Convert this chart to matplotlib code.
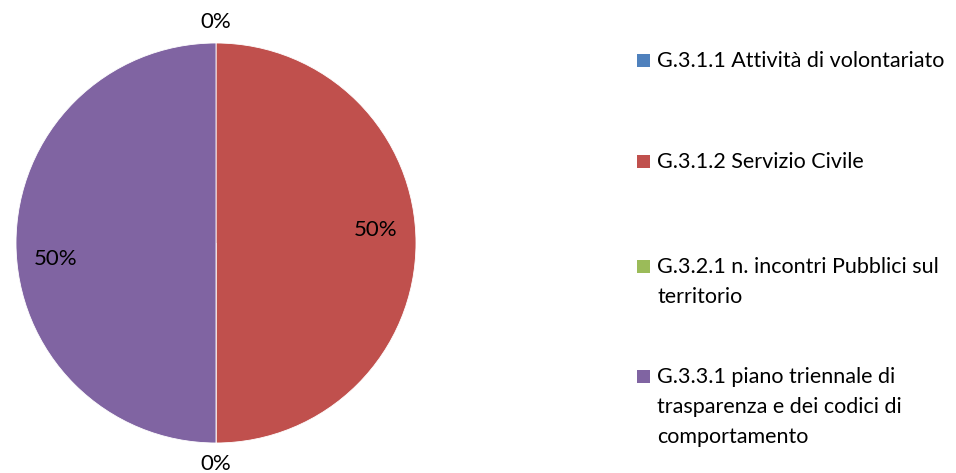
import numpy as np
import matplotlib
matplotlib.use("Agg")
import matplotlib.pyplot as plt
from matplotlib.patches import Rectangle

# data
categories = [
    "G.3.1.1 Attività di volontariato",
    "G.3.1.2 Servizio Civile",
    "G.3.2.1 n. incontri Pubblici sul\nterritorio",
    "G.3.3.1 piano triennale di\ntrasparenza e dei codici di\ncomportamento",
]
values = [0, 1, 0, 1]
colors = ["#4F81BD", "#C0504D", "#9BBB59", "#8064A2"]

plt.rcParams["font.family"] = ["Lato", "DejaVu Sans"]

fig = plt.figure(figsize=(9.56, 4.73), dpi=100)
W, H = 956, 473

# pie axes: centre (216, 243), radius 200 px
ax = fig.add_axes([16 / W, (H - 443) / H, 400 / W, 400 / H])
wedges, _ = ax.pie(values, colors=colors, startangle=90, counterclock=False,
                   radius=1, wedgeprops=dict(edgecolor="white", linewidth=0.6))
ax.set_xlim(-1, 1)
ax.set_ylim(-1, 1)
ax.set_aspect("equal")
ax.axis("off")

# percentage labels
total = sum(values)
nudge = [0.0, 0.065, 0.0, -0.08]
for w, v, dy in zip(wedges, values, nudge):
    mid = np.deg2rad((w.theta1 + w.theta2) / 2)
    dist = 0.8 if v > 0 else 1.105
    x = dist * np.cos(mid)
    y = dist * np.sin(mid) + dy
    ax.text(x, y, f"{v / total:.0%}", ha="center", va="center",
            fontsize=16, color="#000000", clip_on=False)

# legend drawn by hand (marker aligned with first line)
baselines = [67, 168, 273, 383]
line_h = 30
for label, col, yb in zip(categories, colors, baselines):
    fig.patches.append(Rectangle((637 / W, (H - yb) / H), 13 / W, 13 / H,
                                 transform=fig.transFigure, facecolor=col,
                                 edgecolor="none"))
    for i, line in enumerate(label.split("\n")):
        fig.text(657 / W, (H - yb - i * line_h) / H, line, ha="left",
                 va="baseline", fontsize=15.5, color="#000000")

fig.savefig("out.png", dpi=100)
